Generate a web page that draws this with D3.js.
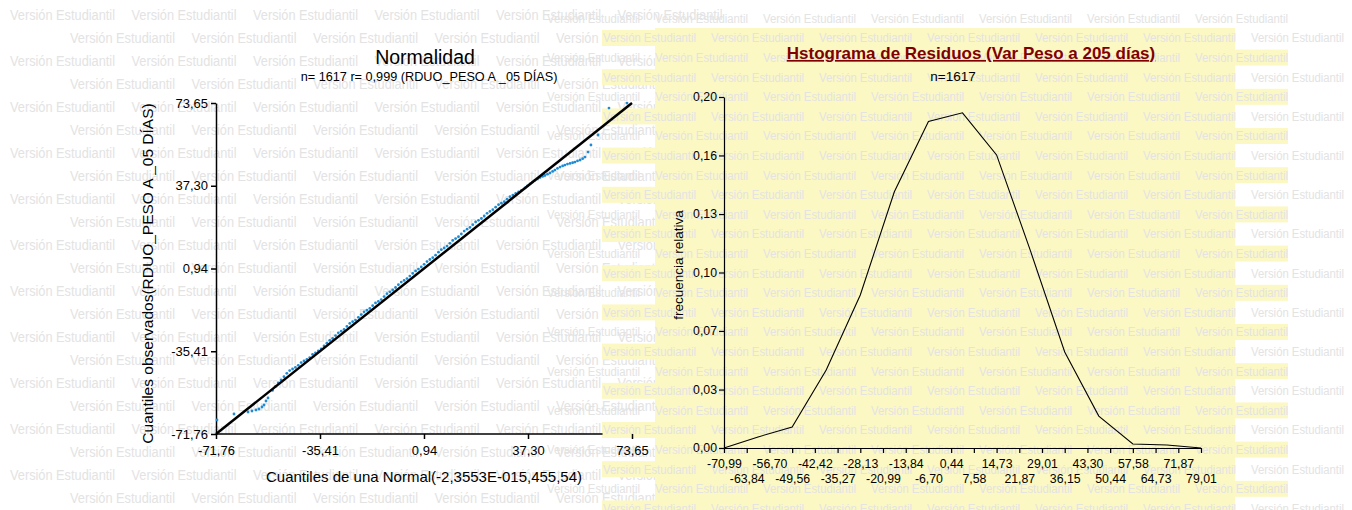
<!DOCTYPE html>
<html>
<head>
<meta charset="utf-8">
<script src="https://cdn.jsdelivr.net/npm/d3@7"></script>
<style>
  body { margin: 0; background: #fff; }
  svg { display: block; font-family: "Liberation Sans", Arial, sans-serif; }
  .marca { font-family: "Liberation Sans Narrow", "Liberation Sans", sans-serif; fill: #e3e3e3; }
  .eje text { font-family: "Liberation Sans", Arial, sans-serif; fill: #000; }
</style>
</head>
<body>
<div id="grafico"></div>
<script>
// Q-Q plot (Normalidad)
const qqTicks = [-71.76, -35.41, 0.94, 37.30, 73.65];
const qqTeorico = [
  -71.41, -65.47, -60.57, -59.18, -57.78, -56.73, -55.68, -54.98, -54.28, -53.58,
  -52, -51, -50, -49, -48, -47, -46, -45, -44, -43, -42, -41, -40, -39, -38, -37, -36, -35,
  -34, -33, -32, -31, -30, -29, -28, -27, -26, -25, -24, -23, -22, -21, -20, -19, -18, -17,
  -16, -15, -14, -13, -12, -11, -10, -9, -8, -7, -6, -5, -4, -3, -2, -1, 0, 1, 2, 3, 4, 5,
  6, 7, 8, 9, 10, 11, 12, 13, 14, 15, 16, 17, 18, 19, 20, 21, 22, 23, 24, 25, 26, 27, 28,
  29, 30, 31, 32, 33, 34, 35,
  36.3, 37.1, 38.0, 38.9, 39.7, 40.6, 41.5, 42.4, 43.2, 44.1, 45.0, 45.9, 46.7, 47.6, 48.5,
  49.4, 50.2, 51.1, 52.0, 52.9, 53.7, 54.6, 55.5, 56.4, 57.2, 58.3, 59.3, 61.8, 65.6, 71.9
];
const qqObservado = [
  -65.61, -62.97, -62.10, -61.66, -61.22, -60.78, -59.90, -59.02, -57.26, -55.94,
  -52.6, -50.9, -49.3, -48.0, -46.6, -45.1, -43.9, -43.2, -42.5, -41.6, -40.4, -39.7, -39.0,
  -38.2, -36.8, -36.1, -35.3, -34.4, -33.1, -31.9, -30.6, -29.8, -28.5, -27.3, -26.6, -25.8,
  -24.5, -23.2, -22.4, -21.7, -20.5, -19.3, -18.1, -17.4, -16.6, -15.4, -14.2, -13.5, -12.7,
  -11.4, -10.1, -9.3, -8.5, -7.4, -6.2, -5.0, -4.3, -3.5, -2.4, -1.2, -0.1, 0.7, 1.6, 2.8,
  4.0, 4.9, 5.7, 6.8, 8.1, 9.2, 10.0, 10.8, 12.0, 13.3, 14.1, 14.9, 16.1, 17.4, 18.2, 19.0,
  20.2, 21.4, 22.1, 22.9, 24.0, 25.2, 26.0, 26.8, 27.9, 29.0, 29.6, 30.3, 31.4, 32.5, 33.2,
  33.9, 34.6, 35.3,
  36.4, 37.2, 38.1, 38.9, 39.7, 40.3, 40.9, 41.4, 41.8, 42.4, 42.9, 43.6, 44.2, 44.9, 45.5,
  46.0, 46.4, 46.8, 47.1, 47.4, 47.7, 48.2, 48.6, 49.2, 49.9, 52.1, 55.2, 59.6, 71.4, 73.6
];
const qqRecta = [-71.76, 73.65];
const qqFinEjeX = 63.35;

// Histograma de residuos (poligono de frecuencias)
const histMarcas = [-70.99, -60.28, -49.56, -38.85, -28.13, -17.42, -6.70, 4.01, 14.73,
  25.44, 36.15, 46.87, 57.58, 68.30, 79.01];
const histFrecRel = [0, 0.0063, 0.012, 0.0444, 0.0872, 0.146, 0.186, 0.191, 0.167, 0.112,
  0.0547, 0.0182, 0.0023, 0.0017, 0];
const histTicksX = [-70.99, -63.84, -56.70, -49.56, -42.42, -35.27, -28.13, -20.99, -13.84,
  -6.70, 0.44, 7.58, 14.73, 21.87, 29.01, 36.15, 43.30, 50.44, 57.58, 64.73, 71.87, 79.01];
const histTicksY = [0, 0.0333, 0.0667, 0.1, 0.1333, 0.1667, 0.2];
const histTicksYTexto = ["0,00", "0,03", "0,07", "0,10", "0,13", "0,16", "0,20"];

const width = 1352;
const height = 510;

const locale = d3.formatLocale({ decimal: ",", thousands: ".", grouping: [3], currency: ["", ""], minus: "-" });
const fmt = locale.format(".2f");

const svg = d3.select("#grafico").append("svg")
  .attr("width", width).attr("height", height);

svg.append("rect").attr("width", width).attr("height", height).attr("fill", "#fff");

// marca de agua izquierda
const marcaIzq = svg.append("g").attr("class", "marca");
for (let k = 0; k < 22; k++) {
  const y0 = 15 + 23 * k;
  const x0 = k % 2 === 0 ? 10 : 70;
  for (let j = 0; j < 6; j++) {
    marcaIzq.append("text")
      .attr("x", x0 + 121.5 * j).attr("y", y0)
      .attr("dy", "0.35em")
      .attr("font-size", 14)
      .attr("textLength", 105).attr("lengthAdjust", "spacingAndGlyphs")
      .text("Versión Estudiantil");
  }
}

// fondo amarillo del histograma
const fondo = svg.append("g").attr("fill", "#fcf8c4");
fondo.append("rect").attr("x", 655).attr("y", 28).attr("width", 580).attr("height", height - 28);
for (let k = 1; k < 27; k++) {
  const yc = 18.4 + 19.6 * k;
  if (k % 2 === 1) {
    fondo.append("rect").attr("x", 602).attr("y", yc - 8).attr("width", 633).attr("height", 16);
  } else {
    fondo.append("rect").attr("x", 655).attr("y", yc - 8).attr("width", 633).attr("height", 16);
  }
}

const marcaDer = svg.append("g").attr("class", "marca");
for (let k = 0; k < 27; k++) {
  const yc = 18.4 + 19.6 * k;
  const x0 = k % 2 === 0 ? 547 : 603;
  for (let j = 0; j < 7; j++) {
    marcaDer.append("text")
      .attr("x", x0 + 108 * j).attr("y", yc)
      .attr("dy", "0.35em")
      .attr("font-size", 12.5)
      .attr("textLength", 93).attr("lengthAdjust", "spacingAndGlyphs")
      .text("Versión Estudiantil");
  }
}

// ---------- Normalidad ----------
const x = d3.scaleLinear().domain([-71.76, 73.65]).range([216, 632]);
const y = d3.scaleLinear().domain([-71.76, 73.65]).range([434, 103]);

const groupQQ = svg.append("g").attr("class", "qq");

groupQQ.append("text")
  .attr("x", 425).attr("y", 57).attr("dy", "0.35em")
  .attr("text-anchor", "middle").attr("font-size", 19.5)
  .text("Normalidad");

groupQQ.append("text")
  .attr("x", 429).attr("y", 77).attr("dy", "0.35em")
  .attr("text-anchor", "middle").attr("font-size", 12.7)
  .text("n= 1617 r= 0,999 (RDUO_PESO A _05 DÍAS)");

const ejeY = groupQQ.append("g").attr("class", "eje")
  .attr("transform", `translate(${x(qqTicks[0])},0)`)
  .call(d3.axisLeft(y).tickValues(qqTicks).tickFormat(fmt).tickSize(5).tickSizeOuter(0).tickPadding(3));
ejeY.selectAll("path, line").attr("stroke", "#000").attr("stroke-width", 1.5);
ejeY.selectAll("text").attr("font-size", 13);

const ejeX = groupQQ.append("g").attr("class", "eje")
  .attr("transform", `translate(0,${y(qqTicks[0])})`)
  .call(d3.axisBottom(x).tickValues(qqTicks).tickFormat(fmt).tickSize(5).tickSizeOuter(0).tickPadding(7));
ejeX.select(".domain").remove();
ejeX.selectAll("line").attr("stroke", "#000").attr("stroke-width", 1.5);
ejeX.selectAll("text").attr("font-size", 13);
ejeX.append("line")
  .attr("x1", x(qqTicks[0])).attr("x2", x(qqFinEjeX))
  .attr("stroke", "#000").attr("stroke-width", 1.5);

groupQQ.append("text")
  .attr("transform", `translate(148,${(y.range()[0] + y.range()[1]) / 2 + 5}) rotate(-90)`)
  .attr("dy", "0.35em").attr("text-anchor", "middle").attr("font-size", 15.5)
  .text("Cuantiles observados(RDUO_PESO A _05 DÍAS)");

groupQQ.append("text")
  .attr("x", 424).attr("y", 477).attr("dy", "0.35em")
  .attr("text-anchor", "middle").attr("font-size", 15)
  .text("Cuantiles de una Normal(-2,3553E-015,455,54)");

groupQQ.append("g")
  .selectAll("circle")
  .data(qqTeorico)
  .enter()
  .append("circle")
  .attr("cx", d => x(d))
  .attr("cy", (d, i) => y(qqObservado[i]))
  .attr("r", 1.4)
  .attr("fill", "#1e8bd3");

groupQQ.append("line")
  .attr("x1", x(qqRecta[0])).attr("y1", y(qqRecta[0]))
  .attr("x2", x(qqRecta[1])).attr("y2", y(qqRecta[1]))
  .attr("stroke", "#000").attr("stroke-width", 2.5);

// ---------- Histograma ----------
const hx = d3.scaleLinear().domain([histTicksX[0], histTicksX[histTicksX.length - 1]]).range([724, 1201]);
const hy = d3.scaleLinear().domain([0, 0.2]).range([448, 97]);

const groupHist = svg.append("g").attr("class", "hist");

groupHist.append("text")
  .attr("x", 971).attr("y", 53).attr("dy", "0.35em")
  .attr("text-anchor", "middle").attr("font-size", 17).attr("font-weight", "bold")
  .attr("fill", "#7f0000").attr("text-decoration", "underline")
  .text("Hstograma de Residuos (Var Peso a 205 días)");

groupHist.append("text")
  .attr("x", 953).attr("y", 76).attr("dy", "0.35em")
  .attr("text-anchor", "middle").attr("font-size", 13.5)
  .text("n=1617");

const hEjeY = groupHist.append("g").attr("class", "eje")
  .attr("transform", `translate(${hx.range()[0]},0)`)
  .call(d3.axisLeft(hy).tickValues(histTicksY).tickFormat((d, i) => histTicksYTexto[i]).tickSize(5).tickSizeOuter(0).tickPadding(2));
hEjeY.selectAll("path, line").attr("stroke", "#000").attr("stroke-width", 1.2);
hEjeY.selectAll("text").attr("font-size", 12.3);

const hEjeX = groupHist.append("g").attr("class", "eje")
  .attr("transform", `translate(0,${hy.range()[0]})`)
  .call(d3.axisBottom(hx).tickValues(histTicksX).tickFormat(fmt).tickSize(5).tickSizeOuter(0).tickPadding(6));
hEjeX.selectAll("path, line").attr("stroke", "#000").attr("stroke-width", 1.2);
hEjeX.selectAll(".tick text")
  .attr("font-size", 12.3)
  .attr("dy", (d, i) => (i % 2 === 0 ? "0.71em" : "1.96em"));

groupHist.append("text")
  .attr("transform", `translate(678,265) rotate(-90)`)
  .attr("dy", "0.35em").attr("text-anchor", "middle").attr("font-size", 13.5)
  .text("frecuencia relativa");

const poligono = d3.line()
  .x(d => hx(d[0]))
  .y(d => hy(d[1]));

groupHist.append("path")
  .datum(histMarcas.map((d, i) => [d, histFrecRel[i]]))
  .attr("d", poligono)
  .attr("fill", "none")
  .attr("stroke", "#000")
  .attr("stroke-width", 1.1);
</script>
</body>
</html>
